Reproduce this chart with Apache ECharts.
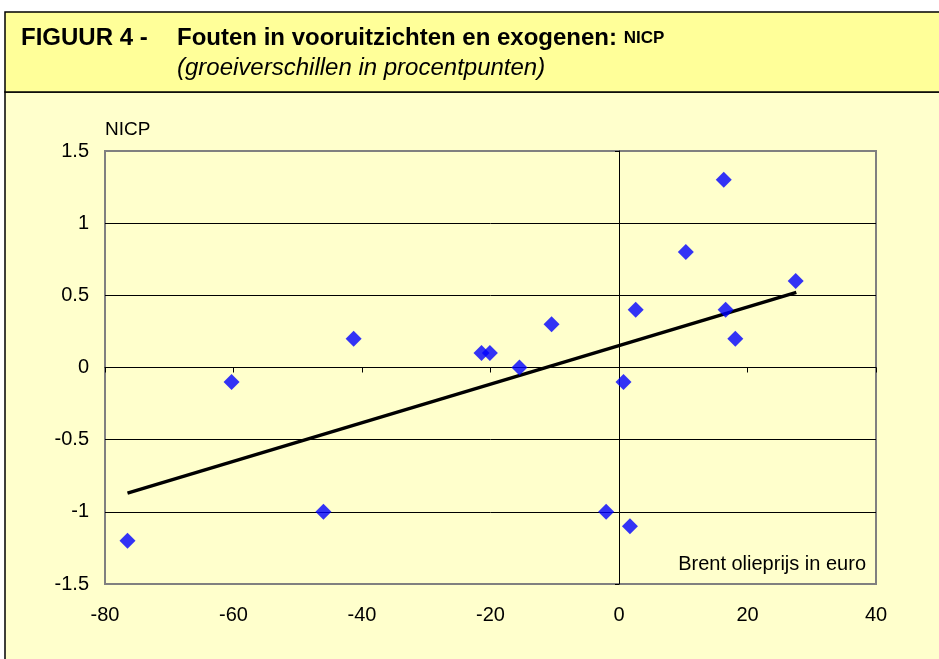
<!DOCTYPE html>
<html>
<head>
<meta charset="utf-8">
<script src="https://cdn.jsdelivr.net/npm/echarts@6/dist/echarts.min.js"></script>
<style>
html, body { margin: 0; padding: 0; background: #fff; }
#chart { width: 939px; height: 659px; }
</style>
</head>
<body>
<div id="chart"></div>
<script>
// brent oil price change (x) vs NICP forecast error (y)
var brentX = [-76.5, -60.3, -46.0, -41.3, -21.4, -20.1, -15.5, -10.5, -2.0, 0.7, 1.7, 2.6, 10.4, 16.3, 16.6, 18.1, 27.5];
var nicpY  = [-1.2, -0.1, -1.0, 0.2, 0.1, 0.1, 0.0, 0.3, -1.0, -0.1, -1.1, 0.4, 0.8, 1.3, 0.4, 0.2, 0.6];

// trend line, end points
var trendX = [-76.5, 27.6];
var trendY = [-0.87, 0.52];

var xTicks = [-80, 40, 20];      // min, max, step
var yTicks = [-1.5, 1.5, 0.5];

var points = [];
for (var i = 0; i < brentX.length; i++) {
    points.push([brentX[i], nicpY[i]]);
}
var trend = [];
for (var j = 0; j < trendX.length; j++) {
    trend.push([trendX[j], trendY[j]]);
}

var font = 'Liberation Sans, Arial, Helvetica, sans-serif';

var myChart = echarts.init(document.getElementById('chart'));
var option = {
    backgroundColor: '#ffffff',
    textStyle: { fontFamily: font },
    animation: false,

    graphic: [
        {
            type: 'rect', z: -10, silent: true,
            shape: { x: 5, y: 92, width: 960, height: 600 },
            style: { fill: '#FFFFCC', stroke: '#000', lineWidth: 1.5 }
        },
        {
            type: 'rect', z: -10, silent: true,
            shape: { x: 5, y: 12, width: 960, height: 80 },
            style: { fill: '#FFFF99', stroke: '#000', lineWidth: 1.5 }
        }
    ],

    title: [
        {
            text: 'FIGUUR 4 -',
            left: 21, top: 26, padding: 0,
            textStyle: { fontSize: 24, fontWeight: 'bold', color: '#000', fontFamily: font }
        },
        {
            text: 'Fouten in vooruitzichten en exogenen: {s|NICP}',
            subtext: '(groeiverschillen in procentpunten)',
            left: 177, top: 26, padding: 0,
            itemGap: 6,
            textStyle: {
                fontSize: 24, fontWeight: 'bold', color: '#000', fontFamily: font,
                rich: { s: { fontSize: 17, fontWeight: 'bold', color: '#000', fontFamily: font } }
            },
            subtextStyle: { fontSize: 24, fontStyle: 'italic', color: '#000', fontFamily: font }
        }
    ],

    grid: {
        left: 105, right: 63, top: 151, bottom: 75,
        show: true,
        backgroundColor: '#FFFFCC',
        borderColor: '#808080',
        borderWidth: 2
    },

    xAxis: [
        {
            type: 'value',
            min: xTicks[0], max: xTicks[1], interval: xTicks[2],
            position: 'bottom',
            axisLine: { show: false, onZero: false },
            axisTick: { show: false },
            splitLine: { show: false },
            axisLabel: { fontSize: 20, color: '#000', margin: 21, fontFamily: font },
            name: 'Brent olieprijs in euro',
            nameLocation: 'end',
            nameGap: -10,
            nameTextStyle: {
                fontSize: 20, color: '#000', fontFamily: font,
                align: 'right', verticalAlign: 'bottom', padding: [0, 0, 10, 0]
            }
        },
        {
            type: 'value',
            min: xTicks[0], max: xTicks[1], interval: xTicks[2],
            position: 'bottom',
            axisLine: { show: true, onZero: true, onZeroAxisIndex: 0, lineStyle: { color: '#000', width: 1 } },
            axisTick: { show: true, length: 5, lineStyle: { color: '#000' } },
            axisLabel: { show: false },
            splitLine: { show: false }
        }
    ],

    yAxis: [
        {
            type: 'value',
            min: yTicks[0], max: yTicks[1], interval: yTicks[2],
            position: 'left',
            axisLine: { show: false, onZero: false },
            axisTick: { show: false },
            splitLine: { show: true, showMinLine: false, showMaxLine: false, lineStyle: { color: '#000', width: 1 } },
            axisLabel: { fontSize: 20, color: '#000', margin: 16, fontFamily: font },
            name: 'NICP',
            nameLocation: 'end',
            nameGap: 12,
            nameTextStyle: { fontSize: 19, color: '#000', align: 'left', fontFamily: font }
        },
        {
            type: 'value',
            min: yTicks[0], max: yTicks[1], interval: yTicks[2],
            position: 'left',
            axisLine: { show: true, onZero: true, onZeroAxisIndex: 0, lineStyle: { color: '#000', width: 1 } },
            axisTick: { show: true, length: 4, lineStyle: { color: '#000' } },
            axisLabel: { show: false },
            splitLine: { show: false }
        }
    ],

    series: [
        {
            name: 'trend',
            type: 'line',
            xAxisIndex: 0, yAxisIndex: 0,
            data: trend,
            symbol: 'none',
            lineStyle: { color: '#000', width: 3.5 },
            z: 2
        },
        {
            name: 'NICP',
            type: 'scatter',
            xAxisIndex: 0, yAxisIndex: 0,
            data: points,
            symbol: 'diamond',
            symbolSize: 16,
            itemStyle: { color: '#0000FF' },
            z: 3
        }
    ]
};
myChart.setOption(option);
</script>
</body>
</html>
